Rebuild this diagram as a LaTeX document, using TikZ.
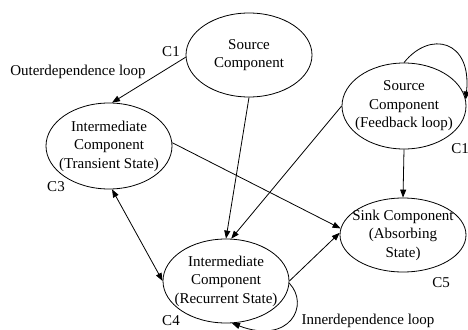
\documentclass[tikz,border=0pt]{standalone}
\usepackage{fontspec}
\setmainfont{Liberation Serif}
\usetikzlibrary{shapes.geometric,arrows.meta}
\begin{document}
\begin{tikzpicture}[x=1pt,y=-1pt,
  state/.style={ellipse,draw,line width=0.8pt,inner xsep=-30pt,inner ysep=-15pt,align=center,
    font=\fontsize{15}{18.5}\selectfont},
  lbl/.style={inner sep=0pt,font=\fontsize{15}{18.5}\selectfont},
  conn/.style={line width=0.8pt,-{Triangle[length=8pt,width=6pt]}},
  biconn/.style={line width=0.8pt,{Triangle[length=8pt,width=6pt]}-{Triangle[length=8pt,width=6pt]}}]
\useasboundingbox (0,0) rectangle (468,329);
\node[state,minimum width=126pt,minimum height=84pt] (S) at (249,55) {Source\\Component};
\node[state,minimum width=126pt,minimum height=86pt] (T) at (109,146) {Intermediate\\Component\\(Transient State)};
\node[state,minimum width=124pt,minimum height=86pt] (F) at (404,106) {Source\\Component\\(Feedback loop)};
\node[state,minimum width=126pt,minimum height=74pt] (K) at (403,235) {Sink Component\\(Absorbing\\State)};
\node[state,minimum width=126pt,minimum height=84pt] (R) at (226,281) {Intermediate\\Component\\(Recurrent State)};

\node[lbl] (c1a) at (171,52) {C1};
\node[lbl] (od) at (78,72) {Outerdependence loop};
\node[lbl] (c3) at (56,187) {C3};
\node[lbl] (c4) at (171,321) {C4};
\node[lbl] (id) at (368,321) {Innerdependence loop};
\node[lbl] (c5) at (441,283) {C5};
\node[lbl] (c1b) at (460,149) {C1};

\draw[conn] (S.182) -- (T.86);
\draw[conn] (S.270) -- (R.90);
\draw[conn] (F.180) -- (R.83);
\draw[conn] (T.3) -- (K.174);
\draw[biconn] (T.274) -- (R.180);
\draw[conn] (F.270) -- (K.90);
\draw[conn] (R.0) -- (K.178);
\draw[conn] (F.90) .. controls (430,30) and (472,40) .. (F.6);
\draw[conn] (R.358) .. controls (310,305) and (290,345) .. (R.278);
\end{tikzpicture}
\end{document}
